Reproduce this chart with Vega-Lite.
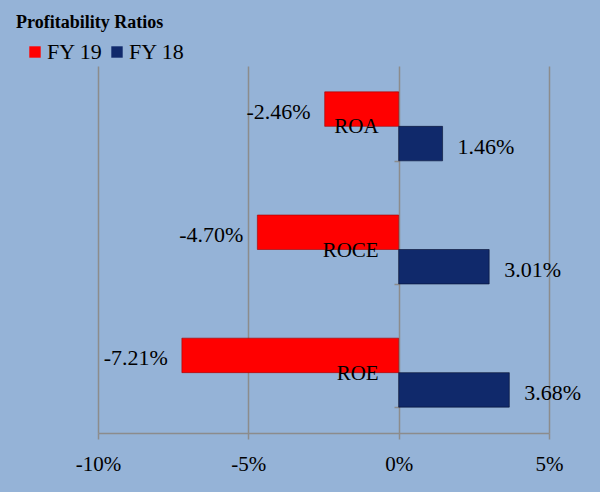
{
  "$schema": "https://vega.github.io/schema/vega-lite/v6.json",
  "autosize": "none",
  "width": 451,
  "height": 367,
  "padding": {"left": 98, "top": 66, "right": 51, "bottom": 59},
  "background": "#95B3D7",
  "title": {
    "text": "Profitability Ratios",
    "anchor": "start",
    "frame": "group",
    "font": "Liberation Serif",
    "fontSize": 18,
    "fontWeight": "bold",
    "color": "#000000",
    "dx": -82,
    "offset": 9
  },
  "config": {
    "view": {"stroke": null},
    "font": "Liberation Serif"
  },
  "data": {
    "values": [
      {"ratio": "ROA", "series": "FY 19", "value": -2.46, "label": "-2.46%"},
      {"ratio": "ROA", "series": "FY 18", "value": 1.46, "label": "1.46%"},
      {"ratio": "ROCE", "series": "FY 19", "value": -4.70, "label": "-4.70%"},
      {"ratio": "ROCE", "series": "FY 18", "value": 3.01, "label": "3.01%"},
      {"ratio": "ROE", "series": "FY 19", "value": -7.21, "label": "-7.21%"},
      {"ratio": "ROE", "series": "FY 18", "value": 3.68, "label": "3.68%"}
    ]
  },
  "encoding": {
    "y": {
      "field": "ratio",
      "type": "nominal",
      "sort": ["ROA", "ROCE", "ROE"],
      "scale": {"paddingInner": 0.44, "paddingOuter": 0.21},
      "axis": {
        "orient": "left",
        "offset": -301,
        "labels": false,
        "title": null,
        "domain": false,
        "ticks": true,
        "tickBand": "extent",
        "tickSize": 5,
        "tickColor": "#8C8C8C",
        "tickWidth": 1.5
      }
    }
  },
  "layer": [
    {
      "mark": {"type": "bar", "strokeWidth": 1, "strokeOpacity": 0.6},
      "encoding": {
        "x": {
          "field": "value",
          "type": "quantitative",
          "scale": {"domain": [-10, 5], "nice": false},
          "axis": {
            "values": [-10, -5, 0, 5],
            "labelExpr": "datum.value + '%'",
            "labelFlush": false,
            "title": null,
            "grid": true,
            "gridColor": "#8C8C8C",
            "gridWidth": 1.5,
            "domainColor": "#8C8C8C",
            "domainWidth": 1.5,
            "tickColor": "#8C8C8C",
            "tickWidth": 1.5,
            "tickSize": 6,
            "labelFont": "Liberation Serif",
            "labelFontSize": 21,
            "labelColor": "#000000",
            "labelPadding": 14
          }
        },
        "yOffset": {"field": "series", "type": "nominal", "sort": ["FY 19", "FY 18"]},
        "color": {
          "field": "series",
          "type": "nominal",
          "scale": {"domain": ["FY 19", "FY 18"], "range": ["#FF0000", "#10296B"]},
          "legend": {
            "orient": "none",
            "legendX": -74,
            "legendY": -25,
            "direction": "horizontal",
            "title": null,
            "symbolType": "square",
            "symbolSize": 130,
            "symbolStrokeWidth": 0,
            "labelFont": "Liberation Serif",
            "labelFontSize": 22,
            "labelColor": "#000000",
            "columnPadding": 3,
            "labelOffset": 1
          }
        },
        "stroke": {
          "field": "series",
          "type": "nominal",
          "scale": {"domain": ["FY 19", "FY 18"], "range": ["#A00000", "#050F30"]},
          "legend": null
        }
      }
    },
    {
      "transform": [{"filter": "datum.value < 0"}],
      "mark": {"type": "text", "align": "right", "baseline": "middle", "dx": -14, "dy": 3, "fontSize": 22, "font": "Liberation Serif", "color": "#000000"},
      "encoding": {
        "x": {"field": "value", "type": "quantitative"},
        "yOffset": {"field": "series", "type": "nominal", "sort": ["FY 19", "FY 18"]},
        "text": {"field": "label"}
      }
    },
    {
      "transform": [{"filter": "datum.value > 0"}],
      "mark": {"type": "text", "align": "left", "baseline": "middle", "dx": 15, "dy": 3, "fontSize": 22, "font": "Liberation Serif", "color": "#000000"},
      "encoding": {
        "x": {"field": "value", "type": "quantitative"},
        "yOffset": {"field": "series", "type": "nominal", "sort": ["FY 19", "FY 18"]},
        "text": {"field": "label"}
      }
    },
    {
      "transform": [{"filter": "datum.series == 'FY 19'"}],
      "mark": {"type": "text", "align": "right", "baseline": "middle", "dx": -20, "dy": 1, "fontSize": 21, "font": "Liberation Serif", "color": "#000000"},
      "encoding": {
        "x": {"datum": 0},
        "text": {"field": "ratio"}
      }
    }
  ]
}
